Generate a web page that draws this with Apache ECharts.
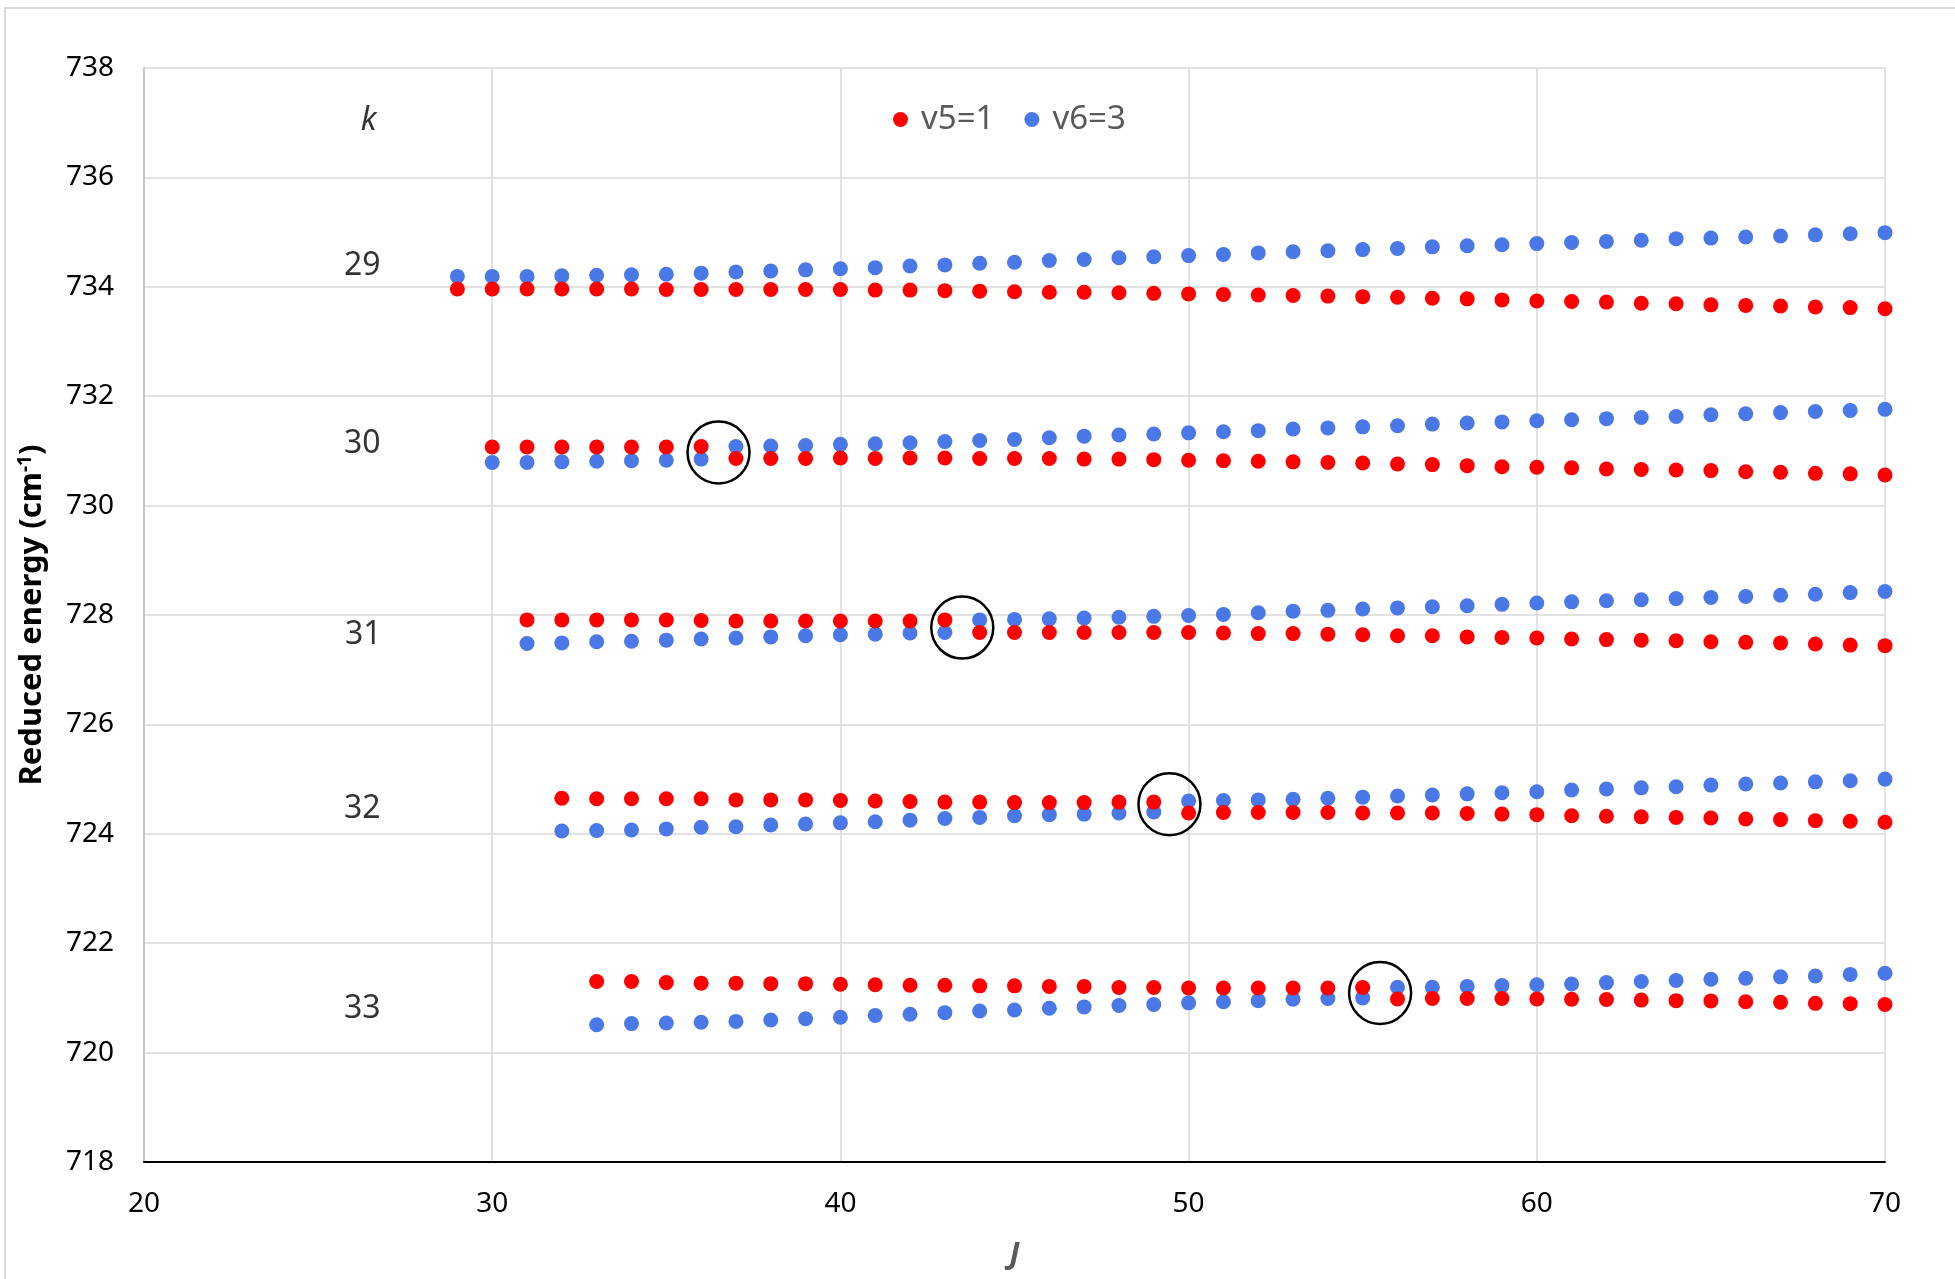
<!DOCTYPE html>
<html><head><meta charset="utf-8">
<script src="https://cdn.jsdelivr.net/npm/echarts@6/dist/echarts.min.js"></script>
<style>html,body{margin:0;padding:0;background:#fff}#c{width:1955px;height:1279px}</style>
</head><body><div id="c"></div><script>
// First J value of each k-branch
const firstJ = {k29: 29, k30: 30, k31: 31, k32: 32, k33: 33};

// v5=1 (red) reduced energies, consecutive J from firstJ to 70
const v5_k29 = [733.96,733.96,733.96,733.96,733.96,733.96,733.95,733.95,733.95,733.95,733.95,733.95,
  733.94,733.94,733.93,733.92,733.91,733.90,733.90,733.89,733.88,733.87,733.86,733.85,733.84,733.83,
  733.82,733.81,733.79,733.78,733.76,733.74,733.73,733.72,733.70,733.69,733.67,733.66,733.65,733.63,733.62,733.60];
const v5_k30 = [731.07,731.07,731.07,731.07,731.07,731.07,731.08,
  730.86,730.86,730.86,730.87,730.86,730.87,730.87,730.86,730.86,730.86,730.85,730.85,730.84,730.83,
  730.82,730.81,730.80,730.79,730.78,730.76,730.75,730.73,730.71,730.70,730.69,730.67,730.66,730.65,
  730.64,730.62,730.61,730.59,730.58,730.56];
const v5_k31 = [727.91,727.91,727.91,727.91,727.91,727.90,727.89,727.89,727.89,727.89,727.89,727.89,727.91,
  727.68,727.68,727.68,727.68,727.68,727.68,727.68,727.67,727.66,727.66,727.65,727.64,727.62,727.62,
  727.60,727.59,727.58,727.56,727.55,727.54,727.53,727.51,727.50,727.49,727.47,727.45,727.44];
const v5_k32 = [724.65,724.64,724.64,724.64,724.64,724.62,724.62,724.62,724.61,724.60,724.59,724.58,
  724.58,724.57,724.57,724.57,724.58,724.58,
  724.38,724.39,724.39,724.39,724.39,724.38,724.38,724.38,724.37,724.36,724.35,724.33,724.32,724.31,
  724.30,724.29,724.27,724.26,724.24,724.23,724.21];
const v5_k33 = [721.30,721.30,721.28,721.27,721.27,721.26,721.26,721.25,721.24,721.23,721.23,721.22,
  721.22,721.21,721.21,721.19,721.19,721.18,721.18,721.18,721.18,721.18,721.19,
  720.98,720.99,720.99,720.99,720.98,720.975,720.97,720.96,720.95,720.945,720.93,720.92,720.90,720.895,720.88];

// v6=3 (blue) reduced energies
const v6_k29 = [734.19,734.19,734.19,734.20,734.21,734.22,734.23,734.25,734.27,734.29,734.31,734.33,
  734.35,734.38,734.40,734.43,734.45,734.48,734.50,734.53,734.55,734.57,734.59,734.62,734.64,734.66,
  734.68,734.70,734.73,734.75,734.77,734.79,734.81,734.83,734.85,734.88,734.89,734.91,734.93,734.95,734.97,734.99];
const v6_k30 = [730.79,730.79,730.80,730.81,730.82,730.83,730.85,
  731.08,731.09,731.10,731.12,731.13,731.15,731.17,731.19,731.21,731.24,731.27,731.29,731.31,731.33,
  731.35,731.37,731.40,731.42,731.44,731.46,731.49,731.51,731.53,731.55,731.57,731.59,731.61,731.63,
  731.66,731.68,731.70,731.72,731.74,731.76];
const v6_k31 = [727.48,727.49,727.51,727.52,727.54,727.56,727.58,727.60,727.62,727.64,727.65,727.67,727.68,
  727.91,727.92,727.93,727.945,727.96,727.975,727.99,728.01,728.04,728.07,728.085,728.11,728.13,728.15,
  728.17,728.195,728.22,728.24,728.26,728.28,728.30,728.32,728.34,728.36,728.38,728.41,728.43];
const v6_k32 = [724.05,724.06,724.07,724.09,724.12,724.13,724.16,724.18,724.20,724.22,724.25,724.28,
  724.30,724.33,724.35,724.36,724.38,724.40,
  724.60,724.61,724.62,724.63,724.65,724.67,724.69,724.71,724.73,724.75,724.77,724.80,724.82,724.84,
  724.86,724.89,724.91,724.93,724.95,724.97,725.00];
const v6_k33 = [720.51,720.53,720.54,720.555,720.57,720.595,720.62,720.645,720.68,720.70,720.73,720.76,
  720.78,720.81,720.835,720.86,720.88,720.91,720.93,720.95,720.975,720.99,721.00,
  721.195,721.195,721.21,721.225,721.24,721.255,721.28,721.30,721.32,721.34,721.36,721.385,721.40,721.43,721.45];

// Avoided-crossing markers (J, energy)
const crossJ = [36.5, 43.5, 49.45, 55.5];
const crossE = [730.97, 727.77, 724.54, 721.09];

// k labels (text, J, energy)
const kText = ['k', '29', '30', '31', '32', '33'];
const kJ = [26.45, 26.27, 26.27, 26.3, 26.27, 26.27];
const kE = [737.04, 734.38, 731.13, 727.63, 724.46, 720.80];

// Axis ticks
const xTicks = {min: 20, max: 70, step: 10};
const yTicks = {min: 718, max: 738, step: 2};

function pts(start, arr) { return arr.map((e, i) => [start + i, e]); }
const red = [].concat(pts(firstJ.k29, v5_k29), pts(firstJ.k30, v5_k30), pts(firstJ.k31, v5_k31),
  pts(firstJ.k32, v5_k32), pts(firstJ.k33, v5_k33));
const blue = [].concat(pts(firstJ.k29, v6_k29), pts(firstJ.k30, v6_k30), pts(firstJ.k31, v6_k31),
  pts(firstJ.k32, v6_k32), pts(firstJ.k33, v6_k33));

const FONT = '"Noto Sans", "DejaVu Sans", sans-serif';
const chart = echarts.init(document.getElementById('c'), null, {renderer: 'canvas'});
chart.setOption({
  backgroundColor: '#fff',
  animation: false,
  textStyle: {fontFamily: FONT},
  graphic: [{type: 'rect', shape: {x: 5, y: 8, width: 2000, height: 1320},
    style: {fill: 'none', stroke: '#d9d9d9', lineWidth: 2}, silent: true, z: -10}],
  grid: {left: 144, right: 70, top: 68, bottom: 117},
  legend: {
    data: ['v5=1', 'v6=3'],
    left: 888, top: 98,
    icon: 'circle', itemWidth: 31, itemHeight: 15, itemGap: 30,
    itemStyle: {opacity: 1},
    textStyle: {fontSize: 33, color: '#595959', fontFamily: FONT}
  },
  xAxis: {
    type: 'value', min: xTicks.min, max: xTicks.max, interval: xTicks.step,
    name: 'J', nameLocation: 'middle', nameGap: 78,
    nameTextStyle: {fontSize: 30, fontStyle: 'italic', fontWeight: 'bold', color: '#595959', fontFamily: FONT},
    axisLine: {lineStyle: {color: '#000', width: 2}},
    axisTick: {show: false},
    axisLabel: {fontSize: 28, color: '#000', margin: 28, fontFamily: FONT},
    splitLine: {show: true, lineStyle: {color: '#d9d9d9', width: 1.5}}
  },
  yAxis: {
    type: 'value', min: yTicks.min, max: yTicks.max, interval: yTicks.step,
    name: 'Reduced energy (cm{sup|-1})', nameLocation: 'middle', nameGap: 96, nameRotate: 90,
    nameTextStyle: {fontSize: 31, fontWeight: 'bold', color: '#000', fontFamily: FONT,
      rich: {sup: {fontSize: 19, fontWeight: 'bold', color: '#000', verticalAlign: 'top', padding: [0, 0, 13, 0], fontFamily: FONT}}},
    axisLine: {show: true, lineStyle: {color: '#bfbfbf', width: 1.5}},
    axisTick: {show: false},
    axisLabel: {fontSize: 28, color: '#000', margin: 30, fontFamily: FONT},
    splitLine: {show: true, lineStyle: {color: '#d9d9d9', width: 1.5}}
  },
  series: [
    {name: 'v6=3', type: 'scatter', data: blue, symbol: 'circle', symbolSize: 15,
      itemStyle: {color: '#4a78e6', opacity: 1}, z: 3},
    {name: 'v5=1', type: 'scatter', data: red, symbol: 'circle', symbolSize: 15,
      itemStyle: {color: '#ff0000', opacity: 1}, z: 4},
    {name: 'crossings', type: 'scatter', data: crossJ.map((j, i) => [j, crossE[i]]),
      symbol: 'circle', symbolSize: 62, silent: true, z: 5,
      itemStyle: {color: 'rgba(0,0,0,0)', borderColor: '#000', borderWidth: 2.5, opacity: 1}},
    {name: 'k labels', type: 'scatter',
      data: kText.map((t, i) => ({value: [kJ[i], kE[i]], name: t,
        label: t === 'k' ? {fontStyle: 'italic'} : {}})),
      symbolSize: 1, itemStyle: {color: 'rgba(0,0,0,0)'}, silent: true, z: 6,
      label: {show: true, position: 'inside', formatter: p => p.name, fontSize: 32, color: '#000', fontFamily: FONT},
      labelLayout: {hideOverlap: false}}
  ]
});
</script></body></html>
